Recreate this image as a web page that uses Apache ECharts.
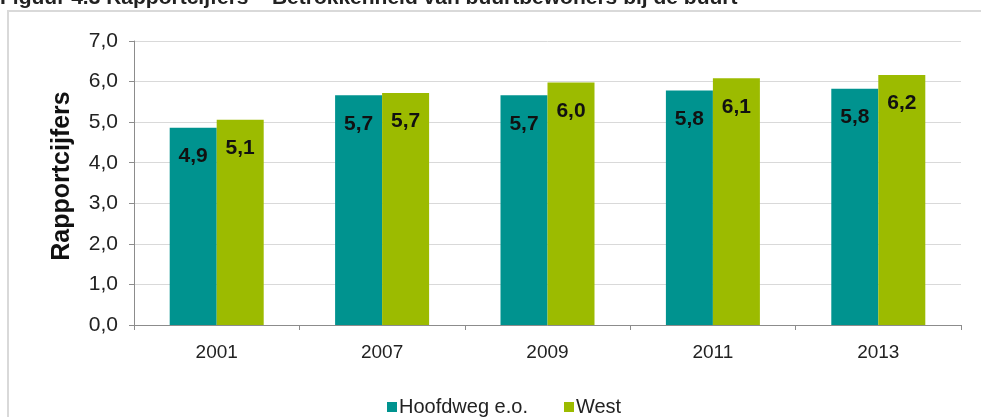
<!DOCTYPE html>
<html>
<head>
<meta charset="utf-8">
<script src="https://cdn.jsdelivr.net/npm/echarts@6/dist/echarts.min.js"></script>
<style>
html,body{margin:0;padding:0;background:#fff;}
#chart{width:981px;height:417px;}
</style>
</head>
<body>
<div id="chart"></div>
<script>
const categories = ['2001', '2007', '2009', '2011', '2013'];
const hoofdweg = [4.86, 5.66, 5.66, 5.78, 5.82];
const west = [5.06, 5.72, 5.98, 6.08, 6.16];
const seriesNames = ['Hoofdweg e.o.', 'West'];
const titleText = 'Figuur 4.3 Rapportcijfers \u2013 Betrokkenheid van buurtbewoners bij de buurt';
const yAxisName = 'Rapportcijfers';

const FONT = '"Liberation Sans", Arial, sans-serif';
const fmt = v => (Math.round(v * 10) / 10).toFixed(1).replace('.', ',');

const chart = echarts.init(document.getElementById('chart'), null, {renderer: 'canvas'});
const labelCfg = {
  show: true,
  position: 'insideTop',
  distance: 18,
  color: '#111',
  fontFamily: FONT,
  fontWeight: 'bold',
  fontSize: 21,
  formatter: p => fmt(p.value)
};
chart.setOption({
  animation: false,
  backgroundColor: '#fff',
  textStyle: {fontFamily: FONT},
  graphic: [
    {
      type: 'rect',
      shape: {x: 8, y: 11, width: 1000, height: 420},
      style: {fill: 'none', stroke: '#d9d9d9', lineWidth: 2},
      z: -10
    },
    {
      type: 'text',
      x: 0, y: 9,
      style: {
        text: titleText,
        font: 'bold 21px ' + FONT,
        fill: '#222',
        verticalAlign: 'bottom'
      }
    }
  ],
  legend: {
    left: 382,
    top: 392,
    itemWidth: 10,
    itemHeight: 10,
    itemGap: 36,
    icon: 'rect',
    textStyle: {fontSize: 20, color: '#222', fontFamily: FONT, padding: [0, 0, 0, -3]},
    data: seriesNames
  },
  grid: {left: 134, right: 20, top: 41, bottom: 92, containLabel: false},
  xAxis: {
    type: 'category',
    data: categories,
    axisLine: {show: true, lineStyle: {color: '#8c8c8c', width: 1}},
    axisTick: {show: true, length: 5, lineStyle: {color: '#8c8c8c'}},
    axisLabel: {fontSize: 19, color: '#222', margin: 18, fontFamily: FONT}
  },
  yAxis: {
    type: 'value',
    min: 0, max: 7, interval: 1,
    name: yAxisName,
    nameLocation: 'middle',
    nameGap: 59,
    nameTextStyle: {fontSize: 25, fontWeight: 'bold', color: '#111', fontFamily: FONT, padding: [0, 0, 0, 14]},
    axisLine: {show: true, lineStyle: {color: '#8c8c8c', width: 1}},
    axisTick: {show: true, length: 5, lineStyle: {color: '#8c8c8c'}},
    axisLabel: {fontSize: 21, color: '#222', margin: 16, fontFamily: FONT, formatter: v => v.toFixed(1).replace('.', ',')},
    splitLine: {show: true, lineStyle: {color: '#d9d9d9', width: 1}}
  },
  series: [
    {
      name: seriesNames[0], type: 'bar', data: hoofdweg,
      barWidth: 47, barGap: '0%',
      itemStyle: {color: '#00938F'},
      label: labelCfg
    },
    {
      name: seriesNames[1], type: 'bar', data: west,
      barWidth: 47, barGap: '0%',
      itemStyle: {color: '#9CBB00'},
      label: labelCfg
    }
  ]
});
</script>
</body>
</html>
